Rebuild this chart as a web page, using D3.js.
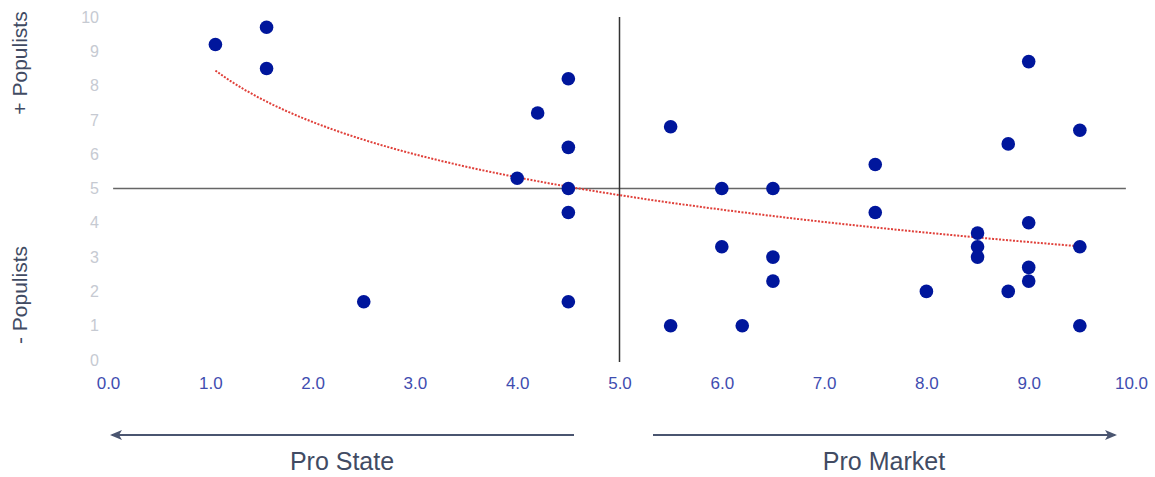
<!DOCTYPE html>
<html>
<head>
<meta charset="utf-8">
<script src="https://cdn.jsdelivr.net/npm/d3@7"></script>
<style>
  body { margin: 0; background: #fff; }
  svg { display: block; font-family: "Liberation Sans", Arial, sans-serif; }
</style>
</head>
<body>
<svg></svg>
<script>
var width = 1155;
var height = 477;

// market orientation (x) vs populism score (y)
var marketScores = [1.05, 1.55, 1.55, 2.5, 4.0, 4.2, 4.5, 4.5, 4.5, 4.5, 4.5,
                    5.5, 5.5, 6.0, 6.0, 6.2, 6.5, 6.5, 6.5, 7.5, 7.5, 8.0,
                    8.5, 8.5, 8.5, 8.8, 8.8, 9.0, 9.0, 9.0, 9.0, 9.5, 9.5, 9.5];
var populistScores = [9.2, 9.7, 8.5, 1.7, 5.3, 7.2, 8.2, 6.2, 5.0, 4.3, 1.7,
                      6.8, 1.0, 5.0, 3.3, 1.0, 5.0, 3.0, 2.3, 5.7, 4.3, 2.0,
                      3.7, 3.3, 3.0, 6.3, 2.0, 8.7, 4.0, 2.7, 2.3, 6.7, 3.3, 1.0];
var xTicks = [0, 1, 2, 3, 4, 5, 6, 7, 8, 9, 10];
var yTicks = [0, 1, 2, 3, 4, 5, 6, 7, 8, 9, 10];
var sideLabels = ['Pro State', 'Pro Market'];
var yTitles = ['+ Populists', '- Populists'];

var data = marketScores.map((x, i) => ({x: x, y: populistScores[i]}));

var xScale = d3.scaleLinear()
                .domain([0, 10])
                .range([108, 1131]);

var yScale = d3.scaleLinear()
                .domain([0, 10])
                .range([360, 17]);

var svg = d3.select('svg')
    .attr('width', width)
    .attr('height', height);

// y tick labels (light grey)
var yAxis = d3.axisLeft(yScale)
                .tickValues(yTicks)
                .tickSize(0)
                .tickPadding(0)
                .tickFormat(d3.format('d'));

svg.append('g')
    .attr('transform', 'translate(99,0)')
    .call(yAxis)
    .call(g => g.select('.domain').remove())
    .selectAll('text')
        .attr('fill', '#c6cad2')
        .style('font-size', '16px');

// x tick labels (blue)
var xAxis = d3.axisBottom(xScale)
                .tickValues(xTicks)
                .tickSize(0)
                .tickPadding(0)
                .tickFormat(d3.format('.1f'));

svg.append('g')
    .attr('transform', 'translate(0,377)')
    .call(xAxis)
    .call(g => g.select('.domain').remove())
    .selectAll('text')
        .attr('fill', '#3f4db0')
        .style('font-size', '17px');

// crosshair at 5 / 5
svg.append('line')
    .attr('x1', xScale(0.05)).attr('x2', xScale(9.95))
    .attr('y1', yScale(5)).attr('y2', yScale(5))
    .attr('stroke', '#666')
    .attr('stroke-width', 1.5);

svg.append('line')
    .attr('x1', xScale(5)).attr('x2', xScale(5))
    .attr('y1', yScale(10)).attr('y2', yScale(-0.06))
    .attr('stroke', '#333')
    .attr('stroke-width', 1.5);

// logarithmic trend line, least squares on ln(x)
var lx = data.map(d => Math.log(d.x));
var mx = d3.mean(lx), my = d3.mean(data, d => d.y);
var b = d3.sum(data, (d, i) => (lx[i] - mx) * (d.y - my)) / d3.sum(lx, v => (v - mx) * (v - mx));
var a = my - b * mx;
var xMin = d3.min(marketScores), xMax = d3.max(marketScores);
var trend = d3.range(0, 61).map(i => {
    var x = xMin + (xMax - xMin) * i / 60;
    return {x: x, y: a + b * Math.log(x)};
});

svg.append('path')
    .datum(trend)
    .attr('d', d3.line().x(d => xScale(d.x)).y(d => yScale(d.y)))
    .attr('fill', 'none')
    .attr('stroke', '#e0403a')
    .attr('stroke-width', 2)
    .attr('stroke-dasharray', '2,1.5');

// points
svg.selectAll('circle')
    .data(data)
    .enter()
    .append('circle')
        .attr('cx', d => xScale(d.x))
        .attr('cy', d => yScale(d.y))
        .attr('r', 6.8)
        .attr('fill', '#00169c');

// rotated y titles
svg.append('text')
    .attr('transform', 'translate(27,' + 63 + ') rotate(-90)')
    .style('text-anchor', 'middle')
    .style('font-size', '21px')
    .attr('fill', '#414b63')
    .text(yTitles[0]);

svg.append('text')
    .attr('transform', 'translate(27,' + 295 + ') rotate(-90)')
    .style('text-anchor', 'middle')
    .style('font-size', '21px')
    .attr('fill', '#414b63')
    .text(yTitles[1]);

// direction arrows
var defs = svg.append('defs');
defs.append('marker')
    .attr('id', 'head')
    .attr('viewBox', '0 0 12 10')
    .attr('refX', 10).attr('refY', 5)
    .attr('markerWidth', 12).attr('markerHeight', 10)
    .attr('markerUnits', 'userSpaceOnUse')
    .attr('orient', 'auto')
    .append('path')
        .attr('d', 'M0,0 L12,5 L0,10 L3,5 Z')
        .attr('fill', '#4a5570');

svg.append('line')
    .attr('x1', 574).attr('x2', 112)
    .attr('y1', 435).attr('y2', 435)
    .attr('stroke', '#4a5570')
    .attr('stroke-width', 2)
    .attr('marker-end', 'url(#head)');

svg.append('line')
    .attr('x1', 653).attr('x2', 1115)
    .attr('y1', 435).attr('y2', 435)
    .attr('stroke', '#4a5570')
    .attr('stroke-width', 2)
    .attr('marker-end', 'url(#head)');

svg.append('text')
    .attr('x', 342).attr('y', 470)
    .style('text-anchor', 'middle')
    .style('font-size', '25px')
    .attr('fill', '#414b63')
    .text(sideLabels[0]);

svg.append('text')
    .attr('x', 884).attr('y', 470)
    .style('text-anchor', 'middle')
    .style('font-size', '25px')
    .attr('fill', '#414b63')
    .text(sideLabels[1]);
</script>
</body>
</html>
